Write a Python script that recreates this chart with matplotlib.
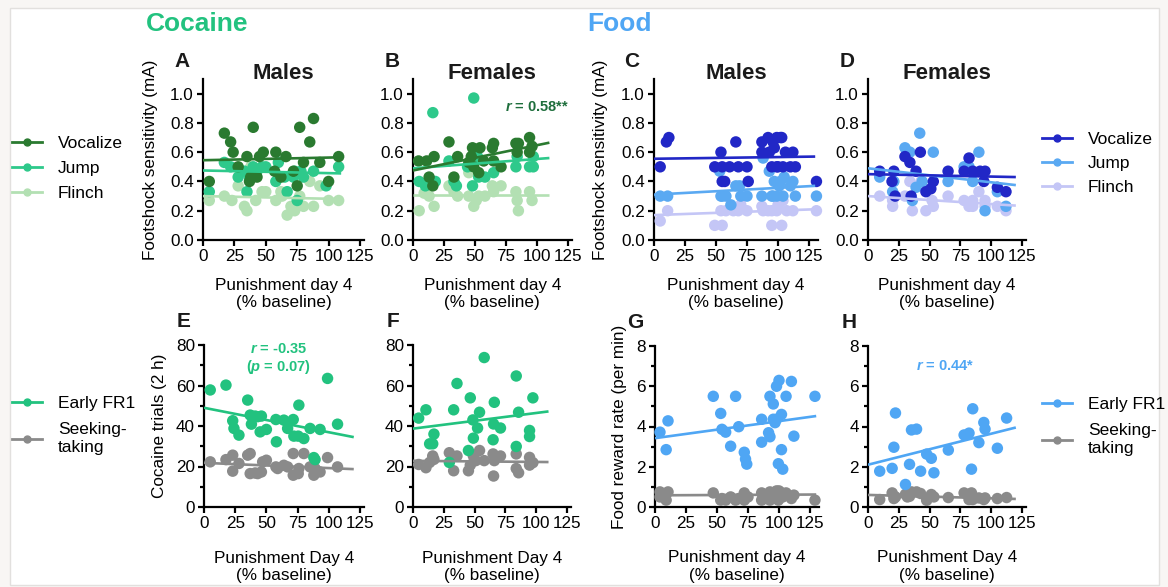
import matplotlib.pyplot as plt
from matplotlib.lines import Line2D
from matplotlib.patches import Rectangle
from matplotlib.ticker import FormatStrFormatter

plt.rcParams['font.family'] = ['Liberation Sans', 'DejaVu Sans']
plt.rcParams['mathtext.fontset'] = 'custom'
plt.rcParams['mathtext.it'] = 'Liberation Sans:italic:bold'
plt.rcParams['mathtext.rm'] = 'Liberation Sans:bold'

W, H = 1168, 587

# colours
c_voc = '#2a7a30'
c_jump = '#2ec98b'
c_flinch = '#b3e0b3'
c_fr1 = '#22c27f'
c_gray = '#8a8a8a'
f_voc = '#2127c6'
f_jump = '#5aa9f2'
f_flinch = '#c4c6f6'
f_fr1 = '#4fa6f4'

# ---------- A: cocaine males, footshock ----------
a_voc_x = [5, 17, 22, 24, 28, 35, 37, 38, 40, 43, 45, 48, 58, 57, 62, 66, 72, 75, 77, 80, 85, 88, 93, 100, 108]
a_voc_y = [0.40, 0.73, 0.67, 0.60, 0.50, 0.57, 0.40, 0.43, 0.77, 0.43, 0.57, 0.60, 0.60, 0.47, 0.43, 0.57, 0.47, 0.37, 0.77, 0.53, 0.67, 0.83, 0.53, 0.40, 0.57]
a_jump_x = [5, 17, 22, 28, 33, 35, 37, 40, 43, 47, 50, 58, 60, 65, 67, 72, 73, 75, 78, 80, 88, 98, 108]
a_jump_y = [0.33, 0.53, 0.50, 0.43, 0.47, 0.33, 0.43, 0.50, 0.47, 0.50, 0.50, 0.40, 0.53, 0.43, 0.33, 0.43, 0.47, 0.27, 0.47, 0.43, 0.47, 0.37, 0.50]
a_fl_x = [5, 17, 23, 28, 33, 35, 38, 42, 47, 50, 58, 62, 63, 67, 70, 73, 77, 80, 85, 88, 93, 100, 108]
a_fl_y = [0.27, 0.30, 0.27, 0.37, 0.23, 0.20, 0.50, 0.27, 0.33, 0.33, 0.27, 0.33, 0.30, 0.17, 0.23, 0.20, 0.30, 0.23, 0.40, 0.23, 0.37, 0.27, 0.27]
a_fits = [(0, 110, 0.30, 0.28), (0, 110, 0.475, 0.455), (0, 110, 0.545, 0.565)]

# ---------- B: cocaine females, footshock ----------
b_voc_x = [4.5, 11, 13, 16, 17, 29, 33, 36, 45, 47, 48, 49, 53, 54, 57, 64, 65, 65, 71, 83, 85, 84, 94, 94, 96]
b_voc_y = [0.54, 0.54, 0.43, 0.37, 0.57, 0.67, 0.43, 0.57, 0.53, 0.57, 0.63, 0.50, 0.46, 0.63, 0.54, 0.63, 0.66, 0.54, 0.50, 0.66, 0.66, 0.60, 0.70, 0.60, 0.64]
b_jump_x = [5, 10, 16, 18, 29, 35, 33, 49, 48, 44, 52, 53, 58, 65, 84, 83, 94, 97, 97]
b_jump_y = [0.40, 0.37, 0.87, 0.40, 0.54, 0.37, 0.40, 0.97, 0.37, 0.50, 0.57, 0.43, 0.43, 0.46, 0.57, 0.50, 0.50, 0.50, 0.57]
b_fl_x = [5, 9, 13, 17, 29, 33, 36, 45, 45, 49, 51, 53, 58, 64, 65, 71, 83, 84, 85, 94, 96]
b_fl_y = [0.20, 0.32, 0.30, 0.23, 0.37, 0.33, 0.30, 0.30, 0.46, 0.23, 0.27, 0.30, 0.30, 0.37, 0.33, 0.37, 0.33, 0.27, 0.20, 0.33, 0.27]
b_fits = [(0, 110, 0.31, 0.31), (0, 110, 0.49, 0.56), (0, 110, 0.475, 0.665)]

# ---------- C: food males, footshock ----------
c_voc_x = [5, 10, 12, 54, 49, 55, 55, 57, 61, 66, 68, 75, 76, 87, 87, 92, 93, 95, 96, 97, 99, 100, 102, 103, 104, 99, 110, 112, 114, 131, 106]
c_voc_y = [0.50, 0.67, 0.70, 0.60, 0.50, 0.50, 0.40, 0.40, 0.50, 0.67, 0.50, 0.50, 0.40, 0.67, 0.60, 0.70, 0.60, 0.50, 0.67, 0.63, 0.70, 0.50, 0.70, 0.70, 0.50, 0.50, 0.50, 0.60, 0.50, 0.40, 0.60]
c_jump_x = [5, 11, 54, 53, 55, 58, 62, 66, 69, 70, 75, 87, 88, 93, 95, 96, 97, 99, 101, 104, 102, 105, 110, 114, 112, 131]
c_jump_y = [0.30, 0.30, 0.30, 0.47, 0.30, 0.30, 0.24, 0.37, 0.37, 0.30, 0.30, 0.30, 0.56, 0.47, 0.30, 0.30, 0.40, 0.30, 0.37, 0.30, 0.40, 0.43, 0.37, 0.30, 0.40, 0.30]
c_fl_x = [5, 11, 49, 55, 54, 58, 64, 68, 75, 70, 87, 88, 95, 103, 95, 99, 100, 104, 107, 112, 131, 92]
c_fl_y = [0.13, 0.20, 0.10, 0.10, 0.20, 0.20, 0.20, 0.20, 0.20, 0.24, 0.23, 0.20, 0.10, 0.10, 0.20, 0.20, 0.24, 0.27, 0.20, 0.20, 0.20, 0.20]
c_fits = [(0, 130, 0.17, 0.21), (0, 130, 0.31, 0.37), (0, 130, 0.555, 0.57)]

# ---------- D: food females, footshock ----------
d_voc_x = [9.5, 21, 19.5, 22, 30, 34, 35, 39, 42.5, 47, 51, 53, 65, 78, 82, 85, 91, 95, 94, 105, 112]
d_voc_y = [0.47, 0.47, 0.40, 0.30, 0.57, 0.53, 0.30, 0.47, 0.60, 0.33, 0.35, 0.40, 0.47, 0.47, 0.56, 0.47, 0.47, 0.47, 0.40, 0.36, 0.33]
d_jump_x = [9.5, 21, 20, 30, 34, 42, 53, 36, 39, 44, 65, 78, 82, 85, 90, 95, 105, 112]
d_jump_y = [0.43, 0.40, 0.33, 0.63, 0.60, 0.73, 0.60, 0.27, 0.36, 0.40, 0.40, 0.50, 0.50, 0.40, 0.60, 0.20, 0.33, 0.23]
d_fl_x = [9.5, 20, 20, 30, 36, 34, 43, 47, 52, 53, 65, 78, 82, 85, 85, 90, 95, 95, 105, 112]
d_fl_y = [0.30, 0.23, 0.27, 0.30, 0.20, 0.40, 0.40, 0.20, 0.27, 0.23, 0.30, 0.27, 0.23, 0.27, 0.23, 0.33, 0.27, 0.23, 0.23, 0.20]
d_fits = [(0, 120, 0.30, 0.235), (0, 120, 0.49, 0.375), (0, 120, 0.45, 0.43)]

# ---------- E: cocaine trials ----------
e_fr1_x = [5, 17.6, 23, 24, 28, 35, 37, 38, 41, 43, 46, 45, 50, 57.6, 58, 64, 67, 71.5, 72, 75.5, 76, 80, 85, 88, 89, 93, 99, 107]
e_fr1_y = [57.8, 60.2, 42.6, 38.8, 35.5, 52.8, 45.4, 40.9, 44.9, 44.6, 44.9, 37.1, 38.3, 43.2, 32.2, 42.9, 38.8, 43.2, 35.0, 35.0, 50.3, 33.8, 38.8, 24.4, 23.4, 38.3, 63.5, 40.9]
e_st_x = [5, 17.6, 23, 23, 28, 35, 37, 37, 41, 43, 46, 47, 50, 57.6, 59, 64, 67, 71.5, 71.5, 75.5, 76, 80, 85, 88, 89, 93, 99, 107]
e_st_y = [22.3, 23.4, 25.6, 17.7, 21.5, 25.6, 26.4, 16.5, 16.8, 16.5, 17.3, 22.3, 23.1, 19.8, 19.0, 20.6, 19.8, 26.4, 15.7, 16.5, 19.0, 26.4, 19.8, 15.7, 19.0, 17.3, 24.4, 19.8]
e_fits = [(0, 120, 21.8, 18.7), (0, 120, 49.0, 34.5)]

# ---------- F: cocaine trials, females ----------
f_fr1_x = [4.6, 10.5, 13.5, 16, 17, 29.5, 33, 35.7, 46.5, 45, 48.6, 49, 52.4, 54, 57.8, 65, 65.4, 66, 71, 83.8, 83.8, 85.7, 94.6, 94.6, 97.3]
f_fr1_y = [43.9, 48.0, 31.2, 31.2, 36.0, 22.0, 48.0, 61.0, 53.9, 27.9, 43.0, 34.0, 39.0, 46.8, 73.8, 33.2, 41.0, 51.7, 39.0, 64.7, 29.9, 46.8, 37.8, 34.8, 53.9]
f_st_x = [4.6, 10.5, 13.5, 16, 17, 29.5, 33, 35.7, 45, 46.5, 49, 51, 54, 57.8, 65, 65.4, 66, 71, 83.8, 83.8, 85.7, 94.6, 94.6, 97.3]
f_st_y = [21.0, 19.4, 22.0, 25.2, 23.5, 26.8, 17.9, 25.2, 17.9, 20.7, 25.2, 22.9, 27.9, 22.9, 26.2, 15.3, 22.9, 25.2, 26.2, 19.0, 16.9, 24.5, 20.7, 21.9]
f_fits = [(0, 110, 22.8, 22.2), (0, 110, 38.7, 47.2)]

# ---------- G: food reward rate, males ----------
g_fr1_x = [4, 9, 10.5, 47, 53, 54, 57, 61, 65, 67.5, 72, 73, 74, 86, 86, 91.6, 92.7, 92.7, 95.4, 95.4, 96.8, 98, 99.5, 100, 102, 102, 103, 105.7, 110, 112, 129, 98]
g_fr1_y = [3.72, 2.85, 4.28, 5.5, 4.65, 3.86, 3.72, 3.02, 5.5, 3.99, 2.72, 2.38, 2.13, 3.22, 4.36, 3.69, 5.5, 3.49, 5.12, 4.36, 4.19, 6.0, 2.15, 6.29, 2.85, 4.6, 1.88, 5.5, 6.24, 3.52, 5.5, 4.36]
g_st_x = [4, 4, 9, 10.5, 47, 53, 54, 57, 61, 65, 67.5, 72, 72, 75, 86, 86, 91.6, 92.7, 92.7, 95.4, 96.8, 98, 99.5, 100, 102, 103, 105.7, 110, 112, 129]
g_st_y = [0.75, 0.5, 0.34, 0.75, 0.7, 0.34, 0.42, 0.34, 0.5, 0.34, 0.42, 0.7, 0.34, 0.5, 0.34, 0.7, 0.5, 0.75, 0.34, 0.7, 0.5, 0.8, 0.34, 0.8, 0.7, 0.5, 0.7, 0.42, 0.59, 0.34]
g_fits = [(0, 130, 0.58, 0.62), (0, 130, 3.42, 4.52)]

# ---------- H: food reward rate, females ----------
h_fr1_x = [9.5, 19.6, 21, 22.3, 30.4, 33.7, 35.3, 39.4, 42.7, 47.6, 51.4, 53.5, 65.2, 78, 82, 84, 85, 90, 94, 95, 105, 112.5]
h_fr1_y = [1.78, 1.92, 2.97, 4.67, 1.12, 2.12, 3.83, 3.87, 1.78, 2.63, 2.42, 1.70, 2.83, 3.58, 3.67, 1.88, 4.88, 3.20, 4.20, 3.87, 2.92, 4.42]
h_st_x = [9.5, 19.6, 21, 22.3, 30.4, 32, 33.7, 35.3, 39.4, 42.7, 47.6, 51.4, 53.5, 65.2, 78, 82, 84, 85, 90, 94, 95, 105, 112.5]
h_st_y = [0.37, 0.70, 0.42, 0.50, 0.63, 0.50, 0.53, 0.75, 0.75, 0.67, 0.33, 0.62, 0.50, 0.47, 0.70, 0.37, 0.70, 0.37, 0.45, 0.37, 0.45, 0.42, 0.47]
h_fits = [(0, 120, 0.60, 0.40), (0, 120, 2.10, 3.95)]

xticks = [0, 25, 50, 75, 100, 125]

fig = plt.figure(figsize=(W / 100, H / 100), dpi=100, facecolor='#f8f6f4')
fig.patches.append(Rectangle((10 / W, 1 - 585 / H), 1149 / W, 577 / H, transform=fig.transFigure,
                             facecolor='white', edgecolor='#e2e0de', lw=1, zorder=-10))


def make_axes(x0, x125, ybot, ytop, xmax, ymax):
    sx = (x125 - x0) / 125
    ax = fig.add_axes([x0 / W, 1 - ybot / H, sx * xmax / W, (ybot - ytop) / H])
    ax.set_xlim(0, xmax)
    ax.set_ylim(0, ymax)
    ax.patch.set_alpha(0)
    for s in ['top', 'right']:
        ax.spines[s].set_visible(False)
    for s in ['left', 'bottom']:
        ax.spines[s].set_linewidth(1.6)
    ax.set_xticks(xticks)
    ax.tick_params(direction='out', length=4, width=1.6, labelsize=12.3, pad=2.5)
    return ax


def draw(ax, series, fits):
    for (x, y, col) in series:
        ax.scatter(x, y, s=68, color=col, edgecolors='none', zorder=3, clip_on=False)
    for (x0, x1, y0, y1), (_, _, col) in zip(fits, series):
        ax.plot([x0, x1], [y0, y1], color=col, lw=1.9, zorder=4, solid_capstyle='butt')


axA = make_axes(203, 360, 240, 79, 128, 1.1)
axB = make_axes(413, 568, 240, 79, 128, 1.1)
axC = make_axes(654, 809, 240, 79, 132, 1.1)
axD = make_axes(868, 1022, 240, 79, 128, 1.1)
axE = make_axes(204, 360, 507, 345, 128, 80)
axF = make_axes(413, 567, 507, 345, 128, 80)
axG = make_axes(655, 810, 507, 346, 132, 8)
axH = make_axes(868, 1022, 507, 346, 128, 8)

draw(axA, [(a_fl_x, a_fl_y, c_flinch), (a_jump_x, a_jump_y, c_jump), (a_voc_x, a_voc_y, c_voc)], a_fits)
draw(axB, [(b_fl_x, b_fl_y, c_flinch), (b_jump_x, b_jump_y, c_jump), (b_voc_x, b_voc_y, c_voc)], b_fits)
draw(axC, [(c_fl_x, c_fl_y, f_flinch), (c_jump_x, c_jump_y, f_jump), (c_voc_x, c_voc_y, f_voc)], c_fits)
draw(axD, [(d_fl_x, d_fl_y, f_flinch), (d_jump_x, d_jump_y, f_jump), (d_voc_x, d_voc_y, f_voc)], d_fits)
draw(axE, [(e_st_x, e_st_y, c_gray), (e_fr1_x, e_fr1_y, c_fr1)], e_fits)
draw(axF, [(f_st_x, f_st_y, c_gray), (f_fr1_x, f_fr1_y, c_fr1)], f_fits)
draw(axG, [(g_st_x, g_st_y, c_gray), (g_fr1_x, g_fr1_y, f_fr1)], g_fits)
draw(axH, [(h_st_x, h_st_y, c_gray), (h_fr1_x, h_fr1_y, f_fr1)], h_fits)

lab_fs = 12.3
for ax in [axA, axB, axC, axD]:
    ax.set_yticks([0, 0.2, 0.4, 0.6, 0.8, 1.0])
    ax.yaxis.set_major_formatter(FormatStrFormatter('%.1f'))
    ax.set_xlabel('Punishment day 4\n(% baseline)', fontsize=lab_fs, va='top', linespacing=1.2)
    ax.xaxis.set_label_coords(0.5, -0.235)
for ax in [axE, axF]:
    ax.set_yticks([0, 20, 40, 60, 80])
    ax.set_yticks([10, 30, 50, 70], minor=True)
for ax in [axG, axH]:
    ax.set_yticks([0, 2, 4, 6, 8])
    ax.set_yticks([1, 3, 5, 7], minor=True)
for ax, lab in zip([axE, axF, axG, axH], ['Punishment Day 4', 'Punishment Day 4', 'Punishment day 4', 'Punishment Day 4']):
    ax.tick_params(which='minor', direction='out', length=3, width=1.6)
    ax.set_xlabel(lab + '\n(% baseline)', fontsize=lab_fs, va='top', linespacing=1.2)
    ax.xaxis.set_label_coords(0.5, -0.27)

axA.set_ylabel('Footshock sensitivity (mA)', fontsize=lab_fs)
axA.yaxis.set_label_coords(-0.28, 0.5)
axC.set_ylabel('Footshock sensitivity (mA)', fontsize=lab_fs)
axC.yaxis.set_label_coords(-0.28, 0.5)
axE.set_ylabel('Cocaine trials (2 h)', fontsize=lab_fs)
axE.yaxis.set_label_coords(-0.23, 0.5)
axG.set_ylabel('Food reward rate (per min)', fontsize=lab_fs)
axG.yaxis.set_label_coords(-0.17, 0.5)

# subplot titles and letters
for ax, t in zip([axA, axB, axC, axD], ['Males', 'Females', 'Males', 'Females']):
    ax.text(0.5, 1.0, t, transform=ax.transAxes, ha='center', va='baseline',
            fontsize=16, fontweight='bold', color='#1a1a1a')
for ax, l in [(axA, 'A'), (axB, 'B'), (axC, 'C'), (axD, 'D')]:
    ax.text(-0.18, 1.075, l, transform=ax.transAxes, ha='left', va='baseline',
            fontsize=15, fontweight='bold', color='#1a1a1a')
for ax, l in [(axE, 'E'), (axF, 'F'), (axG, 'G'), (axH, 'H')]:
    ax.text(-0.17, 1.11, l, transform=ax.transAxes, ha='left', va='baseline',
            fontsize=15, fontweight='bold', color='#1a1a1a')

fig.text(146 / W, 1 - 31 / H, 'Cocaine', fontsize=19, fontweight='bold', color=c_fr1, va='baseline')
fig.text(587 / W, 1 - 31 / H, 'Food', fontsize=19, fontweight='bold', color=f_fr1, va='baseline')

# correlation notes
axB.text(126, 0.91, r'$\it{r}$ = 0.58**', ha='right', va='center', fontsize=10.5,
         fontweight='bold', color='#1e6e3c')
axE.text(60, 73.3, '$\\it{r}$ = -0.35\n($\\it{p}$ = 0.07)', ha='center', va='center', fontsize=10.5,
         fontweight='bold', color=c_fr1, linespacing=1.15)
axH.text(63, 7.0, r'$\it{r}$ = 0.44*', ha='center', va='center', fontsize=10.5,
         fontweight='bold', color=f_fr1)


def handles(cols):
    return [Line2D([], [], color=c, lw=2, marker='o', markersize=5) for c in cols]


leg_kw = dict(frameon=False, fontsize=12.5, handlelength=1.75, handletextpad=0.9,
              borderpad=0, borderaxespad=0, loc='upper left')
fig.legend(handles([c_voc, c_jump, c_flinch]), ['Vocalize', 'Jump', 'Flinch'],
           bbox_to_anchor=(12 / W, 1 - 136 / H), labelspacing=0.56, **leg_kw)
fig.legend(handles([c_fr1, c_gray]), ['Early FR1', 'Seeking-\ntaking'],
           bbox_to_anchor=(12 / W, 1 - 396 / H), labelspacing=0.65, **leg_kw)
fig.legend(handles([f_voc, f_jump, f_flinch]), ['Vocalize', 'Jump', 'Flinch'],
           bbox_to_anchor=(1042 / W, 1 - 132 / H), labelspacing=0.5, **leg_kw)
fig.legend(handles([f_fr1, c_gray]), ['Early FR1', 'Seeking-\ntaking'],
           bbox_to_anchor=(1042 / W, 1 - 397 / H), labelspacing=0.65, **leg_kw)

fig.savefig('out.png', dpi=100, facecolor=fig.get_facecolor())
